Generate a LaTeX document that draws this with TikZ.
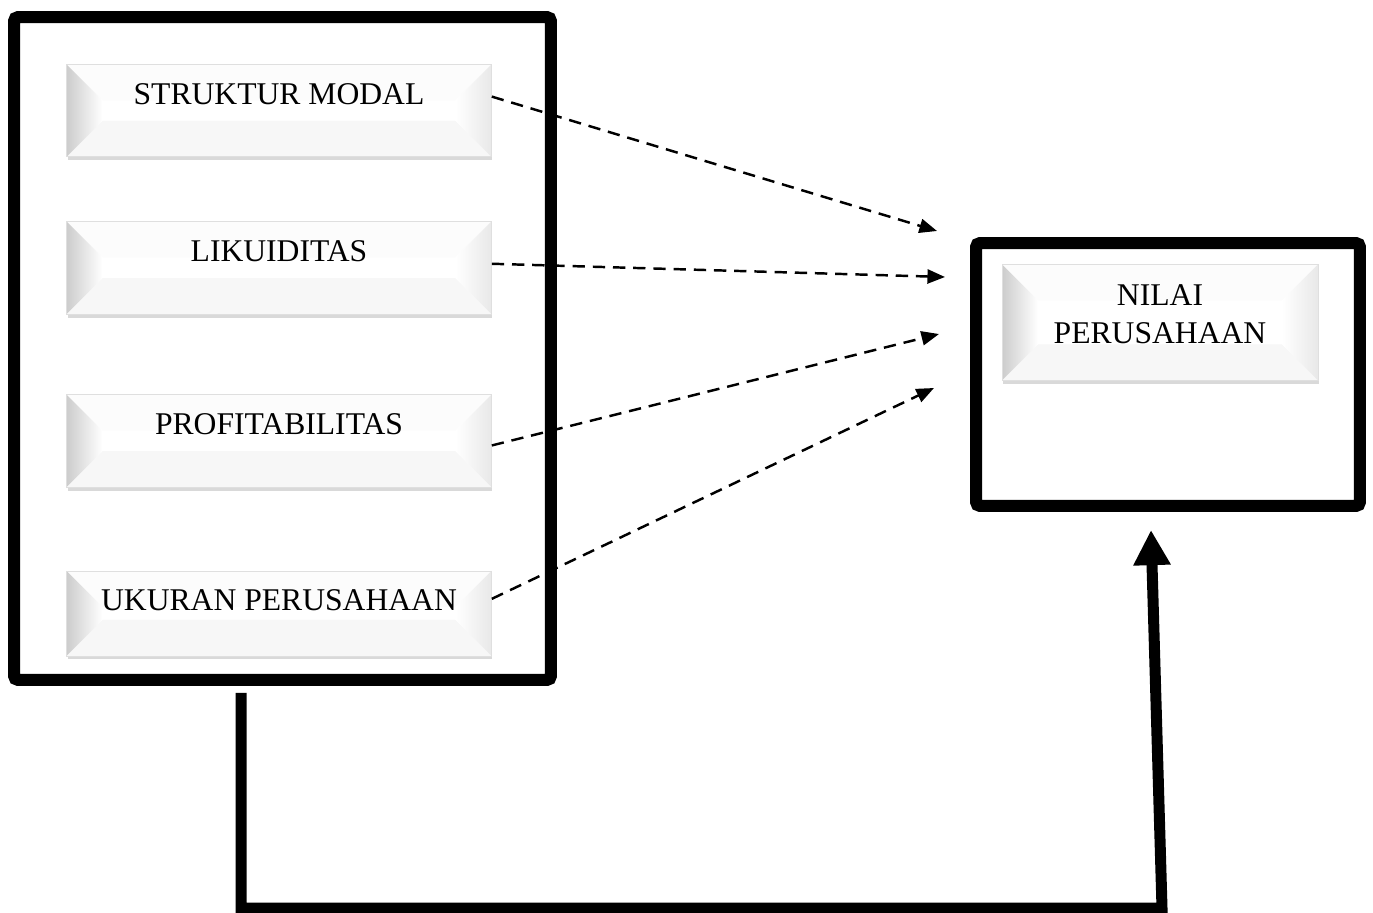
\documentclass[tikz,border=0pt]{standalone}
\usepackage{fontspec}
\setmainfont{Liberation Serif}
\usetikzlibrary{positioning, calc, arrows.meta, shadows}

\begin{document}
\begin{tikzpicture}[
        x=0.02cm, y=-0.02cm,
        every node/.style={font=\fontsize{18}{21.5}\selectfont},
        frame/.style={rectangle, draw=black, line width=0.24cm, rounded corners=0.08cm, inner sep=0},
        bevel/.style={path picture={
            \fill[gray!2] (path picture bounding box.north west) -- ++(0.72cm,-0.72cm) -- ([shift={(-0.72cm,-0.72cm)}]path picture bounding box.north east) -- (path picture bounding box.north east) -- cycle;
            \fill[gray!6] (path picture bounding box.south west) -- ++(0.72cm,0.72cm) -- ([shift={(-0.72cm,0.72cm)}]path picture bounding box.south east) -- (path picture bounding box.south east) -- cycle;
            \fill[left color=gray!40, right color=white] (path picture bounding box.north west) -- ++(0.72cm,-0.72cm) -- ([shift={(0.72cm,0.72cm)}]path picture bounding box.south west) -- (path picture bounding box.south west) -- cycle;
            \fill[left color=white, right color=gray!18] (path picture bounding box.north east) -- ++(-0.72cm,-0.72cm) -- ([shift={(-0.72cm,0.72cm)}]path picture bounding box.south east) -- (path picture bounding box.south east) -- cycle;
        }},
        factor/.style={rectangle, fill=white, draw=gray!25, thin, inner sep=0, minimum width=8.5cm, text height=0.8cm, text depth=1.05cm, bevel, drop shadow={shadow xshift=0.02cm, shadow yshift=-0.07cm, opacity=0.3}},
        link/.style={-{Triangle[length=10pt,width=8pt]}, line width=1.4pt, dash pattern=on 7pt off 4.5pt},
        flow/.style={-{Triangle[length=20pt,width=20pt]}, line width=0.22cm}
    ]
        \useasboundingbox (0,0) rectangle (1373,913);

        % kotak variabel
        \node[frame, minimum width=10.74cm, minimum height=13.26cm] (var) at (282.5,348.5) {};
        \node[frame, minimum width=7.68cm, minimum height=5.26cm] (dep) at (1168,374.5) {};

        \node[factor, anchor=north] (SM) at (279,64) {STRUKTUR MODAL};
        \node[factor, below=1.28cm of SM] (LK) {LIKUIDITAS};
        \node[factor, below=1.6cm of LK] (PF) {PROFITABILITAS};
        \node[factor, below=1.66cm of PF, text depth=0.9cm] (UP) {UKURAN PERUSAHAAN};

        \node[factor, anchor=north, minimum width=6.32cm, text height=1.58cm, text depth=0.74cm, align=center] (NP) at (1160,264) {NILAI\\PERUSAHAAN};

        % panah putus-putus
        \coordinate (t1) at (937,231);
        \coordinate (t2) at (945,277);
        \coordinate (t3) at (939,334);
        \coordinate (t4) at (934,388);
        \draw[link] ([yshift=0.28cm]SM.east) -- (t1);
        \draw[link] ([yshift=0.08cm]LK.east) -- (t2);
        \draw[link] ([yshift=-0.09cm]PF.east) -- (t3);
        \draw[link] ([yshift=0.29cm]UP.east) -- (t4);

        % panah tebal
        \coordinate (fs) at ([xshift=-0.83cm,yshift=-0.14cm]var.south);
        \coordinate (fe) at (1151,530);
        \draw[flow] (fs) |- (1162,908) -- (fe);
    \end{tikzpicture}
\end{document}
